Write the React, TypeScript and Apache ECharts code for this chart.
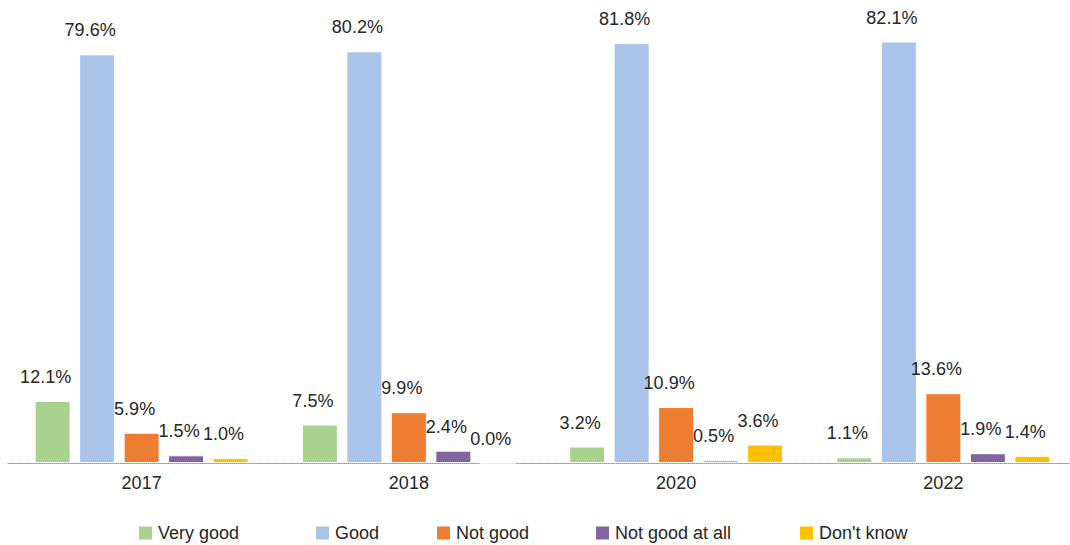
import React, { useEffect, useRef } from "react";
import * as echarts from "echarts";

const categories = ["2017", "2018", "2020", "2022"];
const seriesNames = ["Very good", "Good", "Not good", "Not good at all", "Don't know"];
const veryGood = [12.1, 7.5, 3.2, 1.1];
const good = [79.6, 80.2, 81.8, 82.1];
const notGood = [5.9, 9.9, 10.9, 13.6];
const notGoodAtAll = [1.5, 2.4, 0.5, 1.9];
const dontKnow = [1.0, 0.0, 3.6, 1.4];
const colors = ["#A9D18E", "#A9C4E8", "#ED7D31", "#8064A2", "#FFC000"];
const legendLefts = [137, 314, 435, 594, 798];

const FONT = "'Liberation Sans', Arial, sans-serif";

export default function App() {
  const ref = useRef<HTMLDivElement>(null);
  useEffect(() => {
    if (!ref.current) return;
    const chart = echarts.init(ref.current, undefined, { renderer: "svg" });
    const values = [veryGood, good, notGood, notGoodAtAll, dontKnow];
    const series = seriesNames.map((name, i) => ({
      name,
      type: "bar",
      data: values[i],
      barWidth: 36,
      barGap: "23.6%",
      itemStyle: { color: colors[i], borderColor: "#ffffff", borderWidth: 1 },
      label: {
        show: true,
        position: "top",
        distance: 15,
        offset: [-7, 0],
        formatter: (p: any) => Number(p.value).toFixed(1) + "%",
        fontFamily: FONT,
        fontSize: 18,
        color: "#262626",
      },
    }));
    chart.setOption({
      animation: false,
      backgroundColor: "#ffffff",
      textStyle: { fontFamily: FONT },
      grid: { left: 8, width: 1069, top: 1, bottom: 82, containLabel: false },
      legend: seriesNames.map((name, i) => ({
        data: [name],
        left: legendLefts[i],
        top: 524,
        padding: 0,
        itemWidth: 15,
        itemHeight: 15,
        icon: "rect",
        selectedMode: false,
        textStyle: { fontFamily: FONT, fontSize: 18, color: "#262626" },
      })),
      xAxis: {
        type: "category",
        data: categories,
        axisTick: { show: false },
        axisLine: { show: true, lineStyle: { color: "#b784a7", type: "dotted", width: 1 } },
        axisLabel: { fontFamily: FONT, fontSize: 18, color: "#262626", margin: 11 },
      },
      yAxis: {
        type: "value",
        min: 0,
        max: 90,
        show: false,
        splitLine: { show: false },
      },
      series,
    });
    return () => chart.dispose();
  }, []);
  return (
    <div
      style={{
        position: "fixed",
        left: 0,
        top: 0,
        width: 1070,
        height: 545,
        overflow: "hidden",
        background: "#ffffff",
      }}
    >
      <div ref={ref} style={{ width: 1080, height: 545 }} />
    </div>
  );
}
